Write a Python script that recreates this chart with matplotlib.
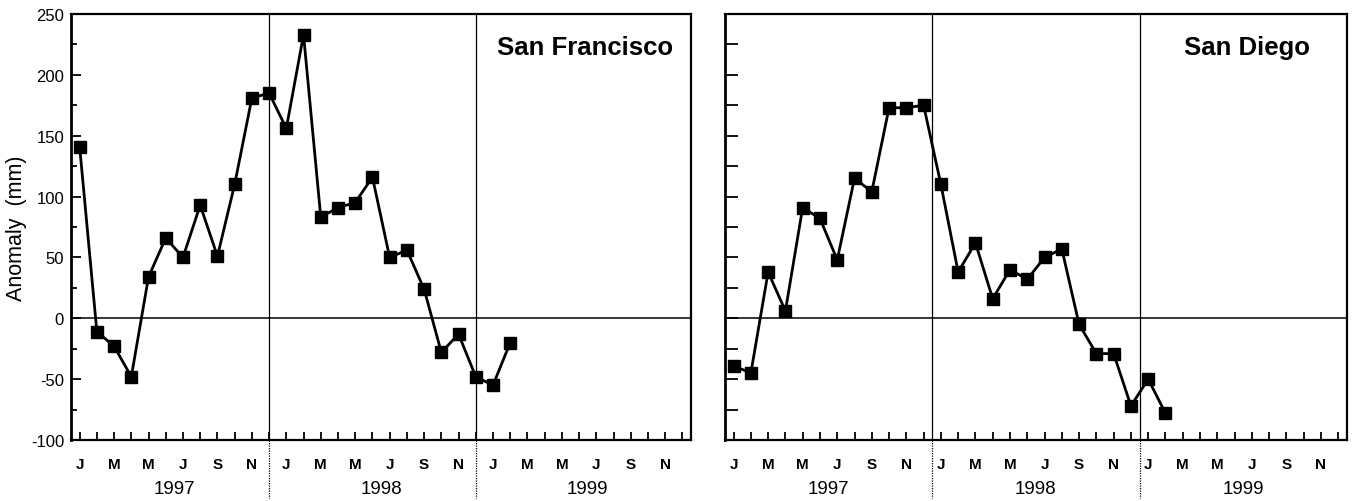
import matplotlib
matplotlib.use('Agg')
import matplotlib.pyplot as plt
import matplotlib.transforms as mtransforms
import numpy as np

plt.rcParams['font.family'] = ['Liberation Sans', 'DejaVu Sans']

# monthly sea level anomaly (mm), starting January 1997
sf_anom = [141, -11, -23, -48, 34, 66, 50, 93, 51, 110, 181, 185,
           156, 233, 83, 91, 95, 116, 50, 56, 24, -28, -13, -48,
           -55, -20]
sd_anom = [-39, -45, 38, 6, 91, 82, 48, 115, 104, 173, 173, 175,
           110, 38, 62, 16, 40, 32, 50, 57, -5, -29, -29, -72,
           -50, -78]

stations = ['San Francisco', 'San Diego']
years = ['1997', '1998', '1999']
month_letters = ['J', '', 'M', '', 'M', '', 'J', '', 'S', '', 'N', '']

n_months = 36

fig = plt.figure(figsize=(13.66, 5.02), dpi=100)
ax1 = fig.add_axes([0.052, 0.1215, 0.4539, 0.8486])
ax2 = fig.add_axes([0.5307, 0.1215, 0.4553, 0.8486])


def draw_panel(ax, data, name, divs, ylabels, ytick_len, ytick_minor_len, name_x):
    months = np.arange(len(data))
    ax.plot(months, data, color='black', lw=2.0, marker='s', ms=9,
            markerfacecolor='black', markeredgecolor='black', zorder=3)
    ax.axhline(0, color='black', lw=1.1)

    ax.set_xlim(-0.5, n_months - 0.5)
    ax.set_ylim(-100, 250)

    ax.set_yticks(np.arange(-100, 251, 50))
    ax.set_yticks(np.arange(-75, 250, 50), minor=True)
    if ylabels:
        ax.set_yticklabels([str(v) for v in range(-100, 251, 50)])
    else:
        ax.set_yticklabels([])
    ax.tick_params(axis='y', which='major', direction='in', length=ytick_len,
                   width=1.3, labelsize=12, pad=5)
    ax.tick_params(axis='y', which='minor', direction='in',
                   length=ytick_minor_len, width=1.3)

    ax.set_xticks(np.arange(n_months))
    ax.set_xticklabels(month_letters * 3, fontweight='bold')
    ax.tick_params(axis='x', direction='in', length=6, width=1.3,
                   labelsize=11, pad=12)

    for side in ['top', 'bottom', 'left', 'right']:
        ax.spines[side].set_linewidth(1.6)
    ax.spines['left'].set_linewidth(2)

    # year separators run down past the axis through the year labels
    trans = mtransforms.blended_transform_factory(ax.transData, ax.transAxes)
    for d in divs:
        ax.plot([d, d], [1, 0], color='black', lw=0.9, transform=trans,
                clip_on=False, zorder=1)
        ax.plot([d, d], [0, -0.135], color='black', lw=0.9, ls=(0, (1, 1)),
                transform=trans, clip_on=False, zorder=1)

    for i, yr in enumerate(years):
        ax.text(5.5 + 12 * i, -0.113, yr, transform=trans, ha='center',
                va='center', fontsize=13.5)

    ax.text(name_x, 0.905, name, transform=ax.transAxes, ha='right',
            va='baseline', fontsize=18.5, fontweight='bold')


draw_panel(ax1, sf_anom, stations[0], [11, 23], True, 7, 4, 0.971)
draw_panel(ax2, sd_anom, stations[1], [11.5, 23.5], False, 9, 9, 0.94)

ax1.set_ylabel('Anomaly  (mm)', fontsize=15.5, labelpad=3)

fig.savefig('out.png', dpi=100)
